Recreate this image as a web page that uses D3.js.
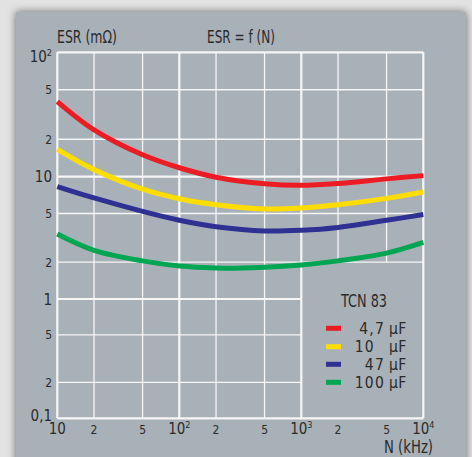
<!DOCTYPE html>
<html>
<head>
<meta charset="utf-8">
<script src="https://cdn.jsdelivr.net/npm/d3@7"></script>
<style>
  html, body { margin: 0; padding: 0; background: #e2e2e2; }
  svg { display: block; }
  text { font-family: "Liberation Sans Narrow", "DejaVu Sans Condensed", "Liberation Sans", sans-serif; fill: #2b2b2b; }
</style>
</head>
<body>
<script>
// Frequency points (kHz) and ESR (mΩ) for each capacitance
const freqs = [10, 20, 50, 100, 200, 500, 1000, 2000, 5000, 10000];
const esr4_7 = [40.2, 23.8, 15.0, 11.8, 9.9, 8.75, 8.5, 8.8, 9.6, 10.2];
const esr10 = [16.6, 11.4, 7.9, 6.6, 5.9, 5.45, 5.55, 5.9, 6.65, 7.5];
const esr47 = [8.3, 6.7, 5.2, 4.4, 3.9, 3.6, 3.65, 3.85, 4.4, 4.9];
const esr100 = [3.4, 2.5, 2.05, 1.86, 1.79, 1.82, 1.9, 2.05, 2.37, 2.9];

const seriesNames = ["4,7", "10\u2007", "47", "100"];
const seriesColors = ["#ec1c24", "#ffdd00", "#2e3192", "#00a651"];

// Axis ticks and their labels ("^" marks a power of ten)
const xTicks = [10, 20, 50, 100, 200, 500, 1000, 2000, 5000, 10000];
const xTickLabels = ["10", "2", "5", "10^2", "2", "5", "10^3", "2", "5", "10^4"];
const yTicks = [0.1, 0.2, 0.5, 1, 2, 5, 10, 20, 50, 100];
const yTickLabels = ["0,1", "2", "5", "1", "2", "5", "10", "2", "5", "10^2"];

const W = 472, H = 457;
const svg = d3.select("body").append("svg").attr("width", W).attr("height", H);

// Panel with soft shadow
const defs = svg.append("defs");
const f = defs.append("filter").attr("id", "shadow").attr("x", "-10%").attr("y", "-10%").attr("width", "120%").attr("height", "120%");
f.append("feDropShadow").attr("dx", 0).attr("dy", 0).attr("stdDeviation", 4).attr("flood-color", "#000").attr("flood-opacity", 0.55);
svg.append("rect").attr("x", 16).attr("y", 12).attr("width", 450).attr("height", 470)
  .attr("fill", "#a9b1b8").attr("filter", "url(#shadow)");

const x = d3.scaleLog().domain([10, 10000]).range([57.3, 423.3]);
const y = d3.scaleLog().domain([0.1, 1, 10, 100]).range([418.3, 299, 176.7, 52.3]);

const isDecade = v => Math.abs(Math.log10(v) - Math.round(Math.log10(v))) < 1e-9;
const grid = svg.append("g").attr("stroke", "#f6f6f6").attr("fill", "none");

// Legend area (1e3..1e4 kHz, 0.1..2 mΩ) is kept free of inner grid lines
const legendTop = 2, legendLeft = 1000;

xTicks.forEach(v => {
  const edge = v === 10 || v === 10000;
  const inLegend = v > legendLeft && v < 10000;
  grid.append("line")
    .attr("x1", x(v)).attr("x2", x(v))
    .attr("y1", inLegend ? y(legendTop) : y(0.1)).attr("y2", y(100))
    .attr("stroke-width", edge || isDecade(v) ? 2.2 : 1.3);
});
yTicks.forEach(v => {
  const edge = v === 0.1 || v === 100;
  const inLegend = v < legendTop && v > 0.1;
  grid.append("line")
    .attr("x1", x(10)).attr("x2", inLegend ? x(legendLeft) : x(10000))
    .attr("y1", y(v)).attr("y2", y(v))
    .attr("stroke-width", edge || isDecade(v) ? 2.2 : 1.3);
});

// Curves
const line = d3.line().x(d => x(d[0])).y(d => y(d[1])).curve(d3.curveCatmullRom.alpha(0.5));
[esr4_7, esr10, esr47, esr100].forEach((vals, i) => {
  svg.append("path")
    .datum(freqs.map((f, j) => [f, vals[j]]))
    .attr("d", line)
    .attr("fill", "none")
    .attr("stroke", seriesColors[i])
    .attr("stroke-width", 5)
    .attr("stroke-linecap", "butt");
});

// Tick label with optional superscript exponent
function tickText(g, label, big) {
  const parts = label.split("^");
  const t = g.append("text").attr("font-size", big ? 15 : 12);
  t.append("tspan").text(parts[0]);
  if (parts[1]) t.append("tspan").attr("font-size", 9).attr("dy", -6).text(parts[1]);
  return t;
}

xTicks.forEach((v, i) => {
  const lab = xTickLabels[i];
  const big = lab.startsWith("10");
  tickText(svg, lab, big).attr("x", x(v)).attr("y", 434).attr("text-anchor", "middle");
});
yTicks.forEach((v, i) => {
  const lab = yTickLabels[i];
  const big = lab.startsWith("1") || lab.startsWith("0");
  const cy = Math.max(56, Math.min(415, y(v)));
  tickText(svg, lab, big).attr("x", 52).attr("y", cy + (big ? 5.5 : 4.5)).attr("text-anchor", "end");
});

// Titles (condensed to the narrow face of the sheet)
function title(xp, yp, str, len) {
  svg.append("text").attr("x", xp).attr("y", yp).attr("font-size", 17)
    .attr("textLength", len).attr("lengthAdjust", "spacingAndGlyphs").text(str);
}
title(57, 43, "ESR (mΩ)", 60);
title(207, 43, "ESR = f (N)", 68);
title(384, 453, "N (kHz)", 49);

// Legend
title(341, 306.5, "TCN 83", 46);
const rowY = [328.3, 346.7, 364.3, 382.3];
seriesNames.forEach((name, i) => {
  svg.append("rect").attr("x", 326).attr("y", rowY[i] - 2.5).attr("width", 15).attr("height", 5)
    .attr("fill", seriesColors[i]);
  svg.append("text").attr("x", 385).attr("y", rowY[i] + 5.5).attr("font-size", 15.5)
    .attr("letter-spacing", 1.2).attr("text-anchor", "end").text(name);
  svg.append("text").attr("x", 389).attr("y", rowY[i] + 5.5).attr("font-size", 15.5)
    .attr("letter-spacing", 0.5).text("µF");
});
</script>
</body>
</html>
